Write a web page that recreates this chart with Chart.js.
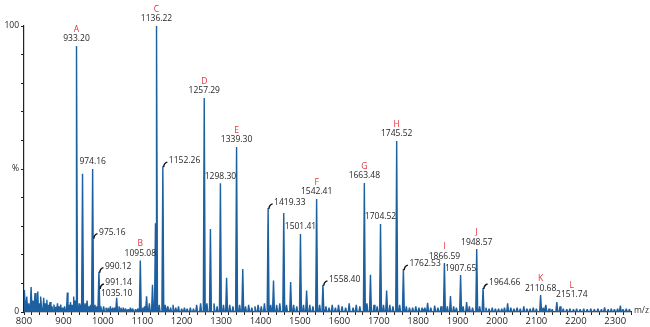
<!DOCTYPE html>
<html>
<head>
<meta charset="utf-8">
<script src="https://cdn.jsdelivr.net/npm/chart.js@4"></script>
<style>
  html, body { margin: 0; padding: 0; background: #fff; }
  #wrap { position: relative; width: 650px; height: 327px; }
</style>
</head>
<body>
<div id="wrap"><canvas id="spectrumChart"></canvas></div>
<script>
// Prominent peaks: m/z and relative intensity (%)
const peakMz = [933.20, 948.5, 974.16, 990.12, 1035.10, 1095.08, 1133.5, 1136.22, 1152.26,
  1257.29, 1273, 1298.30, 1314, 1339.30, 1355, 1419.33, 1433, 1459, 1476.5, 1501.41, 1517,
  1542.41, 1558.40, 1663.48, 1679, 1704.52, 1720, 1745.52, 1762.53, 1866.59, 1882, 1907.65,
  1923, 1948.57, 1964.66, 2027, 2110.68, 2124, 2151.74, 2313];
const peakInt = [93, 48.3, 50, 14.1, 5, 18, 31, 100, 51,
  74.8, 29, 45, 12, 57.7, 15, 36.4, 11, 34.6, 10.5, 27.3, 7.5,
  39.5, 9.5, 45.1, 13, 30.8, 7.5, 59.8, 15, 17.1, 5.6, 12.9,
  3.5, 22, 8.4, 3, 5.9, 2.5, 3.5, 2.2];

// Small peaks / baseline noise
const minorMz = [801, 807, 812, 818, 823, 828, 835, 839, 843, 850, 854, 858, 862, 866, 871, 876,
  880, 885, 889, 893, 898, 903, 910, 914, 918, 922, 926, 930, 940, 944, 955, 960, 965, 969, 980,
  985, 995, 1002, 1008, 1013, 1019, 1025, 1030, 1041, 1046, 1052, 1058, 1064, 1070, 1076, 1083,
  1089, 1102, 1106, 1111, 1118, 1126, 1143, 1158, 1165, 1172, 1178, 1185, 1192, 1200, 1207, 1214,
  1222, 1230, 1238, 1248, 1264, 1282, 1290, 1306, 1322, 1330, 1347, 1362, 1370, 1378, 1386, 1394,
  1402, 1410, 1426, 1441, 1449, 1466, 1484, 1492, 1509, 1525, 1533, 1550, 1566, 1574, 1582, 1590,
  1598, 1607, 1616, 1625, 1635, 1643, 1652, 1670, 1688, 1696, 1712, 1728, 1736, 1753, 1770, 1778,
  1786, 1794, 1802, 1810, 1817, 1824, 1832, 1842, 1850, 1858, 1874, 1890, 1897, 1914, 1930, 1938,
  1956, 1972, 1980, 1988, 1996, 2004, 2012, 2019, 2035, 2043, 2051, 2059, 2068, 2076, 2084, 2092,
  2100, 2117, 2132, 2140, 2160, 2168, 2177, 2185, 2194, 2202, 2211, 2220, 2229, 2238, 2247, 2256,
  2265, 2273, 2282, 2290, 2298, 2306, 2320, 2328, 2336];
const minorInt = [7.7, 5.4, 3, 8.7, 4, 6.6, 7.2, 3, 5.4, 5, 3, 4.3, 2.5, 3.5, 2, 2.6,
  1.8, 3, 2, 2.6, 1.5, 2, 6.8, 2.5, 3.5, 2.5, 5.4, 4, 3, 2.5, 3, 4, 2, 2.5, 2.5,
  2, 2, 2, 1.5, 1.5, 2, 1.5, 1.5, 2, 1.5, 1.5, 1.2, 1, 1.5, 1.2, 1,
  1.2, 1.5, 2, 5.5, 3, 9.5, 2.5, 2.5, 2, 1.5, 2.5, 1.5, 2, 1.2, 1.5, 1.2,
  1.5, 1.2, 2.5, 3, 3, 3, 2, 2.5, 2.5, 2, 2.5, 2, 2.5, 1.5, 2, 2.5,
  2, 3, 2.5, 2.5, 3, 2.5, 2.5, 2, 2.5, 2.5, 2, 2.5, 2, 1.5, 2.5, 1.5,
  2.5, 2, 1.5, 3, 1.5, 2.5, 2, 3, 2.5, 2, 2.5, 2.5, 2, 2.5, 2, 1.5,
  1.5, 2, 1.5, 1.5, 1.5, 3.2, 1.5, 2.2, 1.5, 2, 2, 2, 1.5, 2, 2, 1.5,
  2, 1.5, 1.2, 1.5, 1.2, 1.2, 1.2, 1.5, 1.5, 1.2, 1.5, 1.2, 2, 1.2, 1.2, 1.5,
  1.2, 1.5, 1.2, 1, 2, 1.2, 1, 1.2, 1, 1.2, 1, 1.2, 1, 1.2, 1, 1.2,
  1, 1.6, 1, 1.2, 1, 1.2, 1, 1.2, 1];

// Peak annotations
const labelText = ["933.20", "1095.08", "1136.22", "1257.29", "1339.30", "1542.41", "1663.48",
  "1745.52", "1866.59", "1948.57", "2110.68", "2151.74", "974.16", "1035.10", "1298.30",
  "1501.41", "1704.52", "1907.65", "975.16", "990.12", "991.14", "1152.26", "1419.33",
  "1558.40", "1762.53", "1964.66"];
const labelLetter = ["A", "B", "C", "D", "E", "F", "G", "H", "I", "J", "K", "L", "", "", "",
  "", "", "", "", "", "", "", "", "", "", ""];
const labelAt = [93, 18, 100, 74.8, 57.7, 39.5, 45.1, 59.8, 17.1, 22, 5.9, 3.5, 50, 4, 45,
  27.3, 30.8, 12.9, 26, 14.1, 8.4, 51, 36.4, 9.5, 15, 8.4];
const labelHook = [false, false, false, false, false, false, false, false, false, false, false,
  false, false, false, false, false, false, false, true, true, true, true, true, true, true, true];

const yTickText = { 0: "0", 50: "%", 100: "100" };

function buildSpectrum() {
  const pts = [];
  const hw = 2.4;
  const add = (mz, h) => {
    pts.push({ x: mz - hw, y: 0 }, { x: mz, y: h }, { x: mz + hw, y: 0 });
  };
  peakMz.forEach((mz, i) => add(mz, peakInt[i]));
  minorMz.forEach((mz, i) => add(mz, minorInt[i]));
  pts.sort((a, b) => a.x - b.x);
  return pts;
}

// label "L" is pushed right so it clears the "K" label
const labelShift = { "2151.74": 15 };

const peakLabels = {
  id: "peakLabels",
  afterDatasetsDraw(chart) {
    const { ctx, scales } = chart;
    ctx.save();
    ctx.font = "8.5px 'Open Sans'";
    labelText.forEach((txt, i) => {
      const px = scales.x.getPixelForValue(parseFloat(txt));
      const py = scales.y.getPixelForValue(labelAt[i]);
      if (labelHook[i]) {
        ctx.strokeStyle = "#111";
        ctx.lineWidth = 1.4;
        ctx.beginPath();
        ctx.moveTo(px + 0.8, py + 1);
        ctx.quadraticCurveTo(px + 1, py - 3, px + 4.5, py - 4);
        ctx.stroke();
        ctx.fillStyle = "#262626";
        ctx.textAlign = "left";
        ctx.textBaseline = "middle";
        ctx.fillText(txt, px + 6, py - 5.5);
      } else {
        const tx = px + (labelShift[txt] || 0);
        ctx.fillStyle = "#262626";
        ctx.textAlign = "center";
        ctx.textBaseline = "middle";
        ctx.fillText(txt, tx, py - 7);
        if (labelLetter[i]) {
          ctx.fillStyle = "#e2333d";
          ctx.fillText(labelLetter[i], tx, py - 16.5);
        }
      }
    });
    // axis unit
    ctx.fillStyle = "#333";
    ctx.font = "8.5px 'Open Sans'";
    ctx.textAlign = "left";
    ctx.textBaseline = "middle";
    ctx.fillText("m/z", scales.x.right + 3, scales.x.top - 1);
    ctx.restore();
  },
};

new Chart(document.getElementById("spectrumChart"), {
  type: "line",
  data: {
    datasets: [
      {
        data: buildSpectrum(),
        borderColor: "#1c60a2",
        backgroundColor: "#1c60a2",
        borderWidth: 1.4,
        borderJoinStyle: "bevel",
        fill: "origin",
        pointRadius: 0,
        tension: 0,
      },
    ],
  },
  options: {
    responsive: true,
    maintainAspectRatio: false,
    animation: false,
    layout: { padding: { top: 26, right: 19, left: 0, bottom: 0 } },
    plugins: { legend: { display: false }, tooltip: { enabled: false } },
    scales: {
      x: {
        type: "linear",
        min: 800,
        max: 2340,
        afterFit: (s) => { s.height = 15; },
        border: { color: "#222", width: 1.2 },
        grid: { drawOnChartArea: false, tickLength: 3, color: "#222" },
        ticks: {
          stepSize: 20,
          autoSkip: false,
          maxRotation: 0,
          padding: 1,
          color: "#262626",
          font: { family: "'Open Sans'", size: 9.5 },
          callback: (v) => (v % 100 === 0 ? String(v) : ""),
        },
      },
      y: {
        min: 0,
        max: 100,
        afterFit: (s) => { s.width = 24; },
        border: { color: "#222", width: 1.2 },
        grid: { drawOnChartArea: false, tickLength: 3, color: "#222" },
        ticks: {
          stepSize: 10,
          autoSkip: false,
          padding: 2,
          color: "#262626",
          font: { family: "'Open Sans'", size: 8.5 },
          callback: (v) => yTickText[v] || "",
        },
      },
    },
  },
  plugins: [peakLabels],
});
</script>
</body>
</html>
